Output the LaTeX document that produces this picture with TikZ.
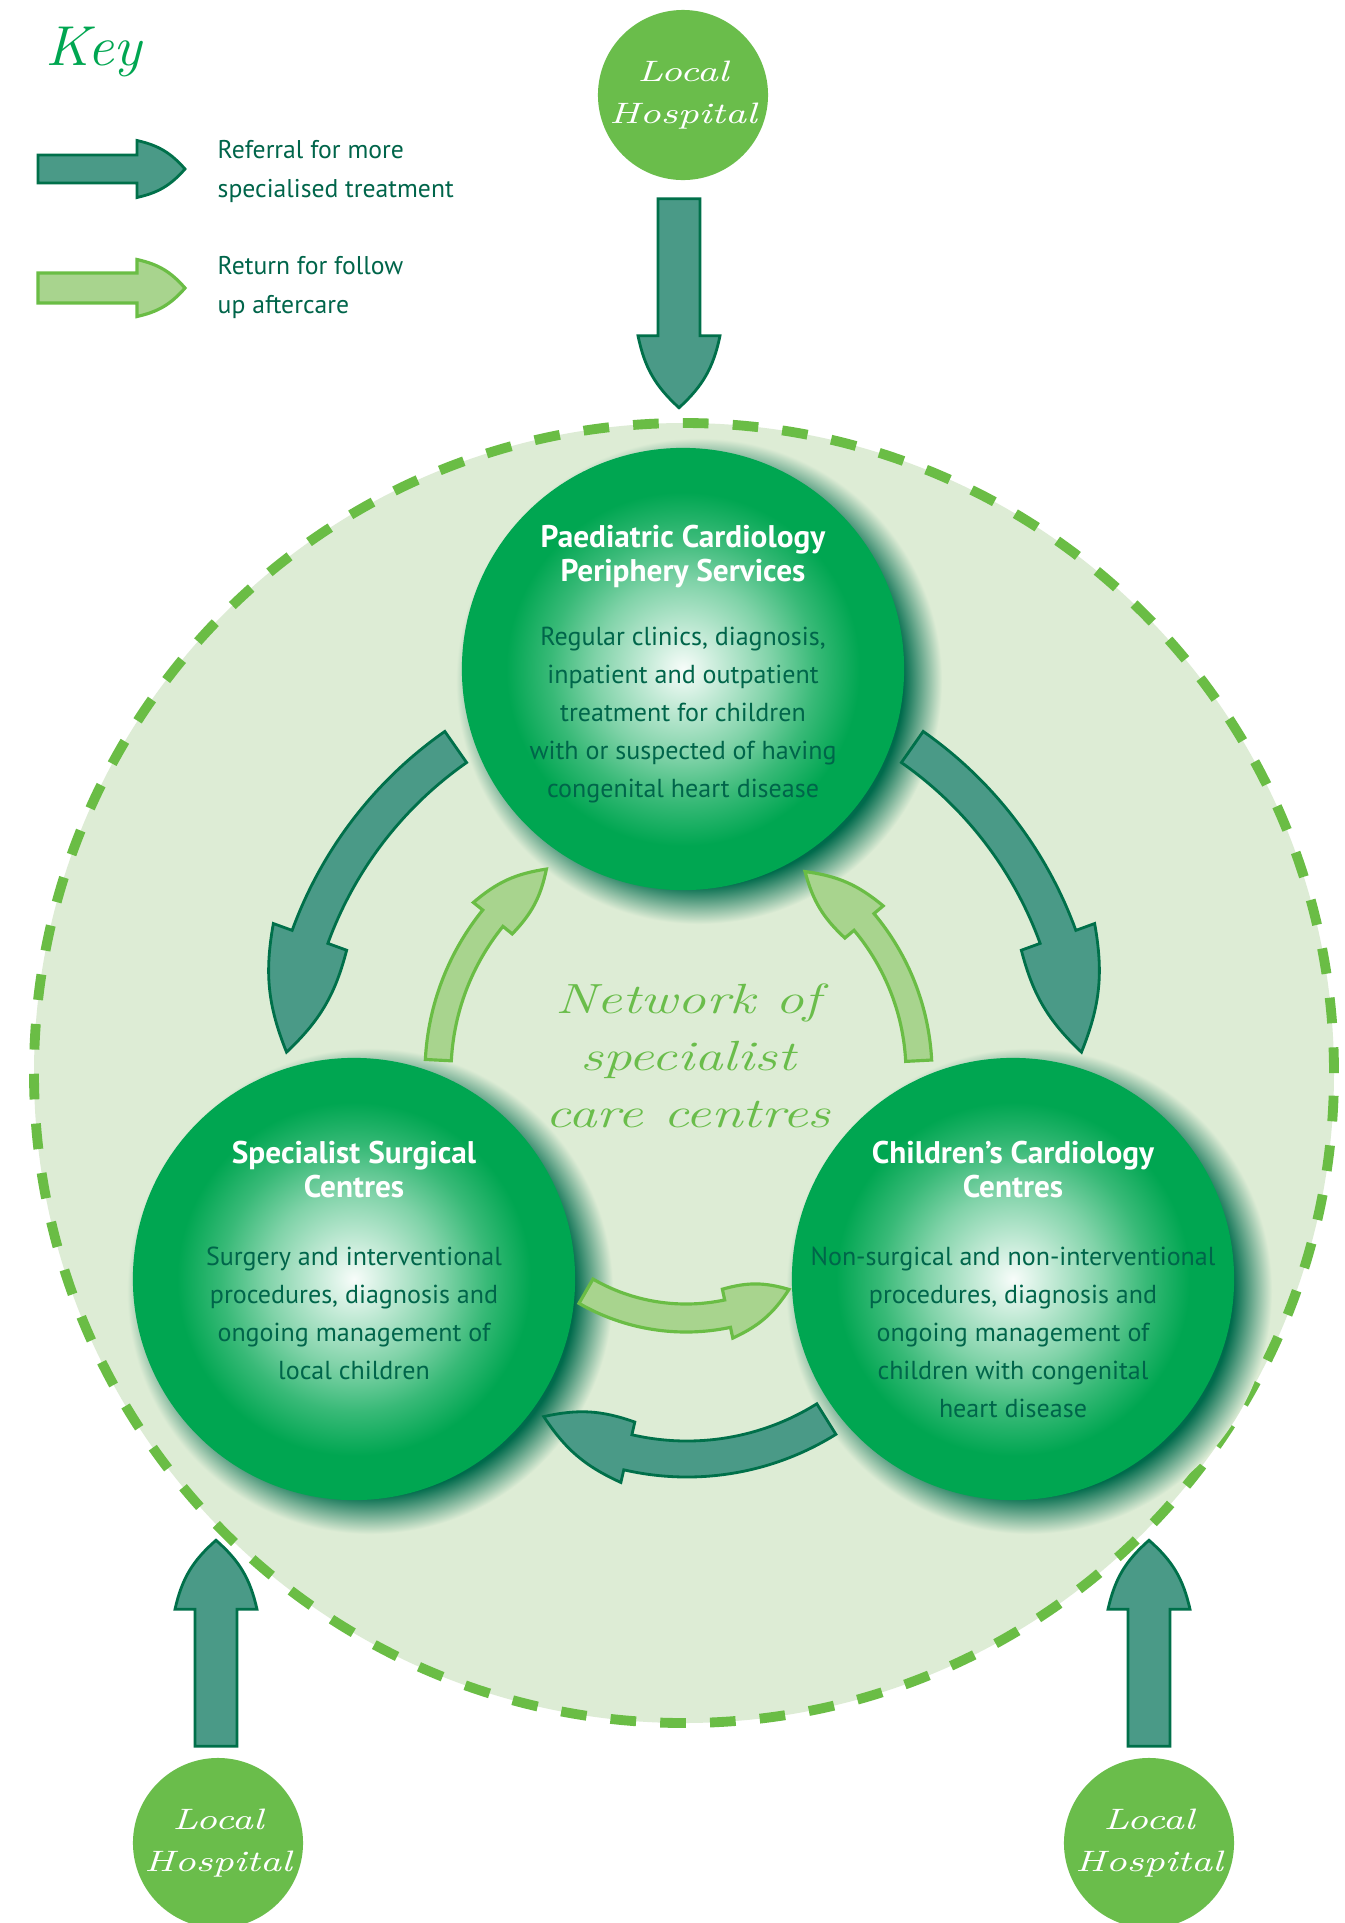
\documentclass[tikz,border=0pt]{standalone}
\usepackage{fontspec}
\setsansfont{PT Sans}
\usepackage{graphicx}
\usetikzlibrary{calc}

\definecolor{bggreen}{HTML}{DDECD5}
\definecolor{dashgreen}{HTML}{6ABD45}
\definecolor{hospgreen}{HTML}{6ABD4B}
\definecolor{ballgreen}{HTML}{00A651}
\definecolor{shadowgreen}{HTML}{006B4C}
\definecolor{textgreen}{HTML}{00654A}
\definecolor{reffill}{HTML}{4A9A87}
\definecolor{refline}{HTML}{00704A}
\definecolor{retfill}{HTML}{A8D48E}
\definecolor{retline}{HTML}{6ABD45}

% the path's edge sits at 25bp
\pgfdeclareradialshading{ballshade}{\pgfpoint{0bp}{0bp}}{%
  color(0bp)=(ballgreen!3!white); color(4bp)=(ballgreen!22!white);
  color(10bp)=(ballgreen!50!white); color(15bp)=(ballgreen!78!white);
  color(20bp)=(ballgreen); color(50bp)=(ballgreen)}
\pgfdeclareradialshading{shadowshade}{\pgfpoint{0bp}{0bp}}{%
  color(0bp)=(shadowgreen); color(21bp)=(shadowgreen);
  color(23bp)=(shadowgreen!50!bggreen); color(25bp)=(bggreen);
  color(50bp)=(bggreen)}

% handwritten look: stretched italic
\newcommand{\scribble}[2][1.3]{\scalebox{#1}[1]{#2}}

% straight block arrow: style, start, rotation, length, shaft half, head half, head length
\newcommand{\blockarrow}[7]{%
  \draw[#1, shift={#2}, rotate=#3]
    (0,-#5) -- ({#4-#7},-#5) -- ({#4-#7},-#6) to[bend right=18] (#4,0)
    to[bend right=18] ({#4-#7},#6) -- ({#4-#7},#5) -- (0,#5) -- cycle;}

% bent block arrow: style, centre, radius, shaft half, head half, tail angle, head angle, tip angle, bend side
\newcommand{\bentarrow}[9]{%
  \draw[#1, shift={#2}]
    ({#6}:{#3+#4}) arc[start angle=#6, end angle=#7, radius={#3+#4}]
    -- ({#7}:{#3+#5}) to[bend #9=16] ({#8}:{#3}) to[bend #9=16] ({#7}:{#3-#5})
    -- ({#7}:{#3-#4}) arc[start angle=#7, end angle=#6, radius={#3-#4}] -- cycle;}

\tikzset{
  ball/.style={circle, shade, shading=ballshade, minimum size=4.42cm, inner sep=0pt},
  balltitle/.style={align=center, text=white, inner sep=0pt,
    font=\sffamily\bfseries\fontsize{8.9}{9.7}\selectfont},
  balltext/.style={align=center, text=textgreen, inner sep=0pt,
    font=\sffamily\fontsize{7.4}{10.8}\selectfont},
  keytext/.style={align=left, text=textgreen, inner sep=0pt,
    font=\sffamily\fontsize{7.3}{11}\selectfont},
  hospital/.style={circle, fill=hospgreen, minimum size=1.7cm, inner sep=0pt,
    align=center, text=white, font=\rmfamily\itshape\fontsize{8.4}{12}\selectfont},
  handtext/.style={align=center, inner sep=0pt,
    font=\rmfamily\itshape\fontsize{12}{16.2}\selectfont},
  refarrow/.style={fill=reffill, draw=refline, line width=0.8pt},
  retarrow/.style={fill=retfill, draw=retline, line width=0.9pt},
  netcircle/.style={fill=bggreen, draw=dashgreen, line width=2.8pt,
    dash pattern=on 7.3pt off 6.87pt}
}

\begin{document}
\begin{tikzpicture}[x=0.01cm, y=0.01cm]

  \useasboundingbox (0,0) rectangle (1345,-1923);
  \fill[white] (0,0) rectangle (1345,-1923);

  % Network area (dashed circle)
  \coordinate (netcentre) at (684,-1073);
  \draw[netcircle] (netcentre) circle (650);

  % Centre positions
  \coordinate (cPeriph)   at (683,-669);
  \coordinate (cSurgical) at (354,-1279);
  \coordinate (cCardio)   at (1013,-1279);

  % Soft shadows behind the balls
  \shade[shading=shadowshade] ($(cPeriph)+(16,-12)$)   circle (243);
  \shade[shading=shadowshade] ($(cSurgical)+(16,-12)$) circle (243);
  \shade[shading=shadowshade] ($(cCardio)+(16,-12)$)   circle (243);

  % The three centres
  \node[ball] (periph)   at (cPeriph) {};
  \node[ball] (surgical) at (cSurgical) {};
  \node[ball] (cardio)   at (cCardio) {};

  \node[balltitle, anchor=north] (periphTitle) at ($(periph.center)+(0,145)$)
    {Paediatric Cardiology\\Periphery Services};
  \node[balltext, anchor=north] (periphText) at ($(periph.center)+(0,43)$)
    {Regular clinics, diagnosis,\\inpatient and outpatient\\treatment for children\\with or suspected of having\\congenital heart disease};

  \node[balltitle, anchor=north] (surgicalTitle) at ($(surgical.center)+(0,139)$)
    {Specialist Surgical\\Centres};
  \node[balltext, anchor=north] (surgicalText) at ($(surgical.center)+(0,33)$)
    {Surgery and interventional\\procedures, diagnosis and\\ongoing management of\\local children};

  \node[balltitle, anchor=north] (cardioTitle) at ($(cardio.center)+(0,139)$)
    {Children’s Cardiology\\Centres};
  \node[balltext, anchor=north] (cardioText) at ($(cardio.center)+(0,33)$)
    {Non-surgical and non-interventional\\procedures, diagnosis and\\ongoing management of\\children with congenital\\heart disease};

  % Referrals round the outside
  \bentarrow{refarrow}{(netcentre)}{398}{19}{39}{125}{160}{177}{right}
  \bentarrow{refarrow}{(netcentre)}{398}{19}{39}{55}{20}{3}{left}

  % Returns on the inside
  \bentarrow{retarrow}{(netcentre)}{246}{13}{25}{177}{141}{124}{left}
  \bentarrow{retarrow}{(netcentre)}{235}{13}{25}{3}{40}{59}{right}

  % Between surgical and cardiology centres
  \bentarrow{retarrow}{(686,-1118)}{200}{14}{25}{240}{282}{301}{right}
  \bentarrow{refarrow}{(687,-1196)}{263}{18}{31}{302}{257}{237}{left}

  \node[handtext, text=hospgreen, anchor=north] (network) at (688,-983)
    {\scribble[1.35]{Network of}\\\scribble[1.35]{specialist}\\\scribble[1.35]{care centres}};

  % Local hospitals
  \node[hospital] (hospTop)   at (683,-95)   {\scribble{Local}\\\scribble{Hospital}};
  \node[hospital] (hospLeft)  at (218,-1843) {\scribble{Local}\\\scribble{Hospital}};
  \node[hospital] (hospRight) at (1149,-1843) {\scribble{Local}\\\scribble{Hospital}};

  \blockarrow{refarrow}{($(hospTop.south)+(-4,-18)$)}{-90}{209}{21}{41}{72}
  \blockarrow{refarrow}{($(hospLeft.north)+(-2,11)$)}{90}{206}{21}{41}{69}
  \blockarrow{refarrow}{($(hospRight.north)+(0,11)$)}{90}{206}{21}{41}{69}

  % Key
  \node[inner sep=0pt, anchor=base west, text=ballgreen,
    font=\rmfamily\itshape\fontsize{16}{18}\selectfont] (keyTitle) at (45,-65)
    {\scribble[1.05]{Key}};

  \blockarrow{refarrow}{(38,-169)}{0}{147}{14}{28.5}{48}
  \node[keytext, anchor=north west] (keyRef) at (217,-140)
    {Referral for more\\specialised treatment};

  \blockarrow{retarrow}{(38,-288)}{0}{147}{15}{28.5}{48}
  \node[keytext, anchor=north west] (keyRet) at (217,-256)
    {Return for follow\\up aftercare};

\end{tikzpicture}
\end{document}
